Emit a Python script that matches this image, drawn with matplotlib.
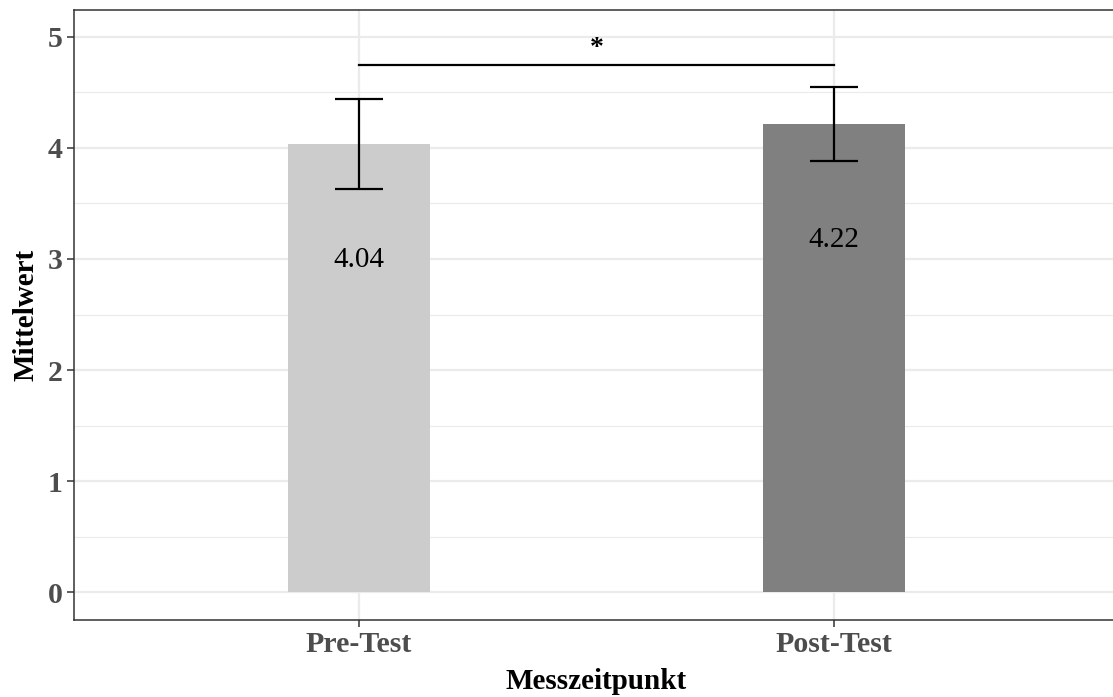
import matplotlib
matplotlib.use("Agg")
import matplotlib.pyplot as plt
import numpy as np

categories = ["Pre-Test", "Post-Test"]
means = [4.04, 4.22]
err_low = [3.63, 3.88]
err_high = [4.44, 4.545]
bar_colors = ["#CCCCCC", "#808080"]
value_labels = ["4.04", "4.22"]
sig_y = 4.745
sig_label = "*"
yticks = [0, 1, 2, 3, 4, 5]

plt.rcParams['font.family'] = ['Liberation Serif', 'DejaVu Serif']

W, H = 1113, 697
fig = plt.figure(figsize=(W / 100, H / 100), dpi=100)
left, right, top, bottom = 74, 1119, 10, 620
ax = fig.add_axes([left / W, 1 - bottom / H, (right - left) / W, (bottom - top) / H])

x = np.arange(1, len(categories) + 1)
ax.set_xlim(0.4, 2.6)
ax.set_ylim(-0.252, 5.243)

# grid
for v in np.arange(0.5, 5.3, 1.0):
    ax.axhline(v, color="#EBEBEB", lw=0.8, zorder=0)
for v in yticks:
    ax.axhline(v, color="#EBEBEB", lw=1.6, zorder=0)
for v in x:
    ax.axvline(v, color="#EBEBEB", lw=1.6, zorder=0)

ax.bar(x, means, width=0.3, color=bar_colors, zorder=2)

for xi, lo, hi in zip(x, err_low, err_high):
    ax.plot([xi, xi], [lo, hi], color="black", lw=1.6, zorder=3, solid_capstyle="butt")
    for yy in (lo, hi):
        ax.plot([xi - 0.05, xi + 0.05], [yy, yy], color="black", lw=1.6, zorder=3, solid_capstyle="butt")

for xi, m, lab in zip(x, means, value_labels):
    ax.text(xi, m - 1.05, lab, ha="center", va="center", fontsize=21, color="black", zorder=4)

ax.plot([x[0], x[1]], [sig_y, sig_y], color="black", lw=1.6, zorder=3)
ax.text((x[0] + x[1]) / 2, sig_y + 0.15, sig_label, ha="center", va="center", fontsize=20,
        fontweight="bold", color="black")

ax.set_xticks(x)
ax.set_xticklabels(categories)
ax.set_yticks(yticks)
for lab in ax.get_xticklabels() + ax.get_yticklabels():
    lab.set_fontweight("bold")
    lab.set_color("#4D4D4D")
    lab.set_fontsize(21.5)
ax.tick_params(axis="both", length=5, width=1.1, color="#333333", pad=3)

for s in ax.spines.values():
    s.set_color("#333333")
    s.set_linewidth(1.1)

ax.set_ylabel("Mittelwert", fontsize=21, fontweight="bold", labelpad=6)
ax.set_xlabel("Messzeitpunkt", fontsize=21, fontweight="bold", labelpad=7)

fig.savefig("out.png", dpi=100)
